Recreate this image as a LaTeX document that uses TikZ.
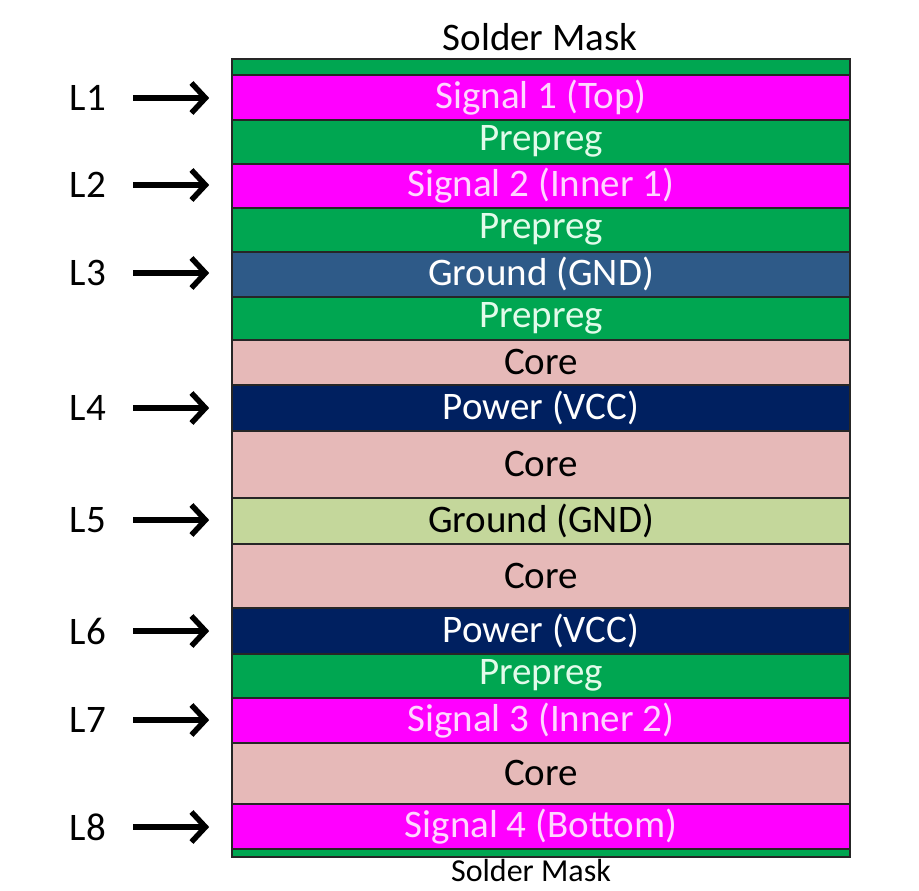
\documentclass[tikz,border=0pt]{standalone}
\usepackage{fontspec}
\setmainfont{Carlito}
\usetikzlibrary{arrows.meta}
\definecolor{sigC}{HTML}{FF00FF}
\definecolor{preC}{HTML}{00A651}
\definecolor{coreC}{HTML}{E6B9B8}
\definecolor{pwrC}{HTML}{002060}
\definecolor{gndC}{HTML}{2E5A88}
\definecolor{gndL}{HTML}{C4D79B}
\definecolor{sigT}{HTML}{FFD6FF}
\definecolor{preT}{HTML}{E2FBEA}
\begin{document}
\begin{tikzpicture}[x=1pt,y=-1pt,
  layer/.style={draw=black!85,line width=1.6pt,minimum width=618pt,inner sep=0pt,anchor=north,
     font=\fontsize{39}{42}\selectfont},
  sig/.style={layer,fill=sigC,text=sigT},
  pre/.style={layer,fill=preC,text=preT},
  core/.style={layer,fill=coreC,text=black},
  pwr/.style={layer,fill=pwrC,text=white},
  gnd/.style={layer,fill=gndC,text=white},
  gndl/.style={layer,fill=gndL,text=black},
  lab/.style={font=\fontsize{39}{42}\selectfont,anchor=center,inner sep=0pt},
  arr/.style={line width=5.5pt,-{Straight Barb[length=14pt,width=30pt]},shorten <=27pt,shorten >=22pt}
]
\useasboundingbox (0,0) rectangle (919,891);
\node[font=\fontsize{39}{42}\selectfont] (smt) at (540,37) {Solder Mask};
\node[pre,minimum height=16pt] (sm1) at (541,58) {};
\node[sig,minimum height=45pt] (s1) at (541,74) {Signal 1 (Top)};
\node[pre,minimum height=44pt] (p1) at (541,119) {Prepreg};
\node[sig,minimum height=44pt] (s2) at (541,163) {Signal 2 (Inner 1)};
\node[pre,minimum height=44pt] (p2) at (541,207) {Prepreg};
\node[gnd,minimum height=45pt] (g1) at (541,251) {Ground (GND)};
\node[pre,minimum height=43pt] (p3) at (541,296) {Prepreg};
\node[core,minimum height=45pt] (c1) at (541,339) {Core};
\node[pwr,minimum height=46pt] (pw1) at (541,384) {Power (VCC)};
\node[core,minimum height=67pt] (c2) at (541,430) {Core};
\node[gndl,minimum height=46pt] (g2) at (541,497) {Ground (GND)};
\node[core,minimum height=64pt] (c3) at (541,543) {Core};
\node[pwr,minimum height=46pt] (pw2) at (541,607) {Power (VCC)};
\node[pre,minimum height=44pt] (p4) at (541,653) {Prepreg};
\node[sig,minimum height=45pt] (s3) at (541,697) {Signal 3 (Inner 2)};
\node[core,minimum height=61pt] (c4) at (541,742) {Core};
\node[sig,minimum height=45pt] (s4) at (541,803) {Signal 4 (Bottom)};
\node[pre,minimum height=8pt] (sm2) at (541,848) {};
\node[font=\fontsize{32}{35}\selectfont] (smb) at (531,871) {Solder Mask};
\node[lab] (L1) at (88,98) {L1};
\node[lab] (L2) at (88,185) {L2};
\node[lab] (L3) at (88,273) {L3};
\node[lab] (L4) at (88,408) {L4};
\node[lab] (L5) at (88,520) {L5};
\node[lab] (L6) at (88,631) {L6};
\node[lab] (L7) at (88,720) {L7};
\node[lab] (L8) at (88,827) {L8};
\draw[arr] (L1.east) -- (L1.east -| s1.west);
\draw[arr] (L2.east) -- (L2.east -| s2.west);
\draw[arr] (L3.east) -- (L3.east -| g1.west);
\draw[arr] (L4.east) -- (L4.east -| pw1.west);
\draw[arr] (L5.east) -- (L5.east -| g2.west);
\draw[arr] (L6.east) -- (L6.east -| pw2.west);
\draw[arr] (L7.east) -- (L7.east -| s3.west);
\draw[arr] (L8.east) -- (L8.east -| s4.west);
\end{tikzpicture}
\end{document}
